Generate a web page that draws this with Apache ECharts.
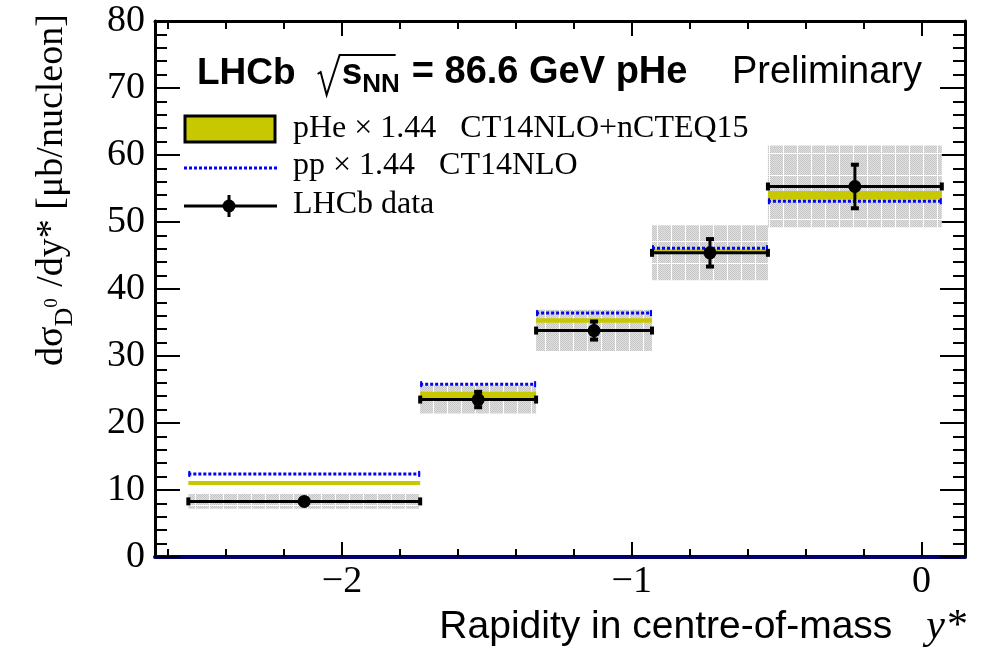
<!DOCTYPE html>
<html>
<head>
<meta charset="utf-8">
<script src="https://cdn.jsdelivr.net/npm/echarts@6/dist/echarts.min.js"></script>
<style>
  html, body { margin: 0; padding: 0; background: #ffffff; }
  #chart { width: 981px; height: 651px; }
</style>
</head>
<body>
<div id="chart"></div>
<script>
// Rapidity bins in the centre-of-mass frame
const binLow    = [-2.53, -1.73, -1.33, -0.93, -0.53];
const binHigh   = [-1.73, -1.33, -0.93, -0.53,  0.07];
const binCenter = [-2.13, -1.53, -1.13, -0.73, -0.23];

// LHCb measurement: dsigma/dy* [ub/nucleon]
const dataValue = [8.3, 23.5, 33.8, 45.4, 55.3];
const statError = [0.4, 1.3, 1.5, 2.2, 3.4];
const systError = [1.1, 2.1, 3.1, 4.1, 6.1];

// Predictions (both scaled by 1.44)
const pHeCentral   = [11.05, 24.2, 35.3, 45.6, 54.0];
const pHeHalfWidth = [0.3, 0.45, 0.33, 0.35, 0.64];
const ppValue      = [12.4, 25.8, 36.4, 46.1, 53.1];

// Axis ticks
const xMajorTicks = [-2, -1, 0];
const xMinorTicks = [-2.6, -2.4, -2.2, -1.8, -1.6, -1.4, -1.2, -0.8, -0.6, -0.4, -0.2];
const xMin = -2.645, xMax = 0.15;
const yMin = 0, yMax = 80, yStep = 10;

const SERIF = '"Liberation Serif", "Times New Roman", serif';
const SANS = '"Liberation Sans", Arial, Helvetica, sans-serif';
const OLIVE = '#c8c800';
const BLUE = '#0000ff';

const measureCtx = document.createElement('canvas').getContext('2d');
function textWidth(str, font) { measureCtx.font = font; return measureCtx.measureText(str).width; }

// light grey textured fill for the systematic boxes
function makeHatch() {
  const c = document.createElement('canvas');
  c.width = 14; c.height = 22;
  const g = c.getContext('2d');
  for (let y = 0; y < 22; y++) {
    for (let x = 0; x < 14; x++) {
      g.fillStyle = ((x + y) % 2 === 0) ? '#c6c6c6' : '#e0e0e0';
      g.fillRect(x, y, 1, 1);
    }
  }
  g.fillStyle = '#ffffff';
  g.fillRect(13, 0, 1, 22);
  g.fillRect(0, 21, 14, 1);
  return c;
}
const hatch = { image: makeHatch(), repeat: 'repeat' };

const systData = binLow.map((lo, i) => [lo, binHigh[i], dataValue[i] - systError[i], dataValue[i] + systError[i]]);
const pHeData  = binLow.map((lo, i) => [lo, binHigh[i], pHeCentral[i] - pHeHalfWidth[i], pHeCentral[i] + pHeHalfWidth[i]]);
const ppData   = binLow.map((lo, i) => [lo, binHigh[i], ppValue[i]]);
const lhcbData = binLow.map((lo, i) => [lo, binHigh[i], binCenter[i], dataValue[i], statError[i]]);

function boxItem(fill) {
  return function (params, api) {
    const a = api.coord([api.value(0), api.value(2)]);
    const b = api.coord([api.value(1), api.value(3)]);
    return {
      type: 'rect',
      shape: { x: a[0], y: b[1], width: b[0] - a[0], height: a[1] - b[1] },
      style: { fill: fill }
    };
  };
}

function ppItem(params, api) {
  const a = api.coord([api.value(0), api.value(2)]);
  const b = api.coord([api.value(1), api.value(2)]);
  return {
    type: 'group',
    children: [
      { type: 'line', shape: { x1: a[0], y1: a[1], x2: b[0], y2: b[1] },
        style: { stroke: BLUE, lineWidth: 3, lineDash: [3, 2] } },
      { type: 'line', shape: { x1: a[0] + 1, y1: a[1] - 3, x2: a[0] + 1, y2: a[1] + 3 },
        style: { stroke: BLUE, lineWidth: 2 } },
      { type: 'line', shape: { x1: b[0] - 1, y1: b[1] - 3, x2: b[0] - 1, y2: b[1] + 3 },
        style: { stroke: BLUE, lineWidth: 2 } }
    ]
  };
}

function dataItem(params, api) {
  const v = api.value(3), e = api.value(4), xc = api.value(2);
  const L = api.coord([api.value(0), v]);
  const R = api.coord([api.value(1), v]);
  const C = api.coord([xc, v]);
  const T = api.coord([xc, v + e]);
  const B = api.coord([xc, v - e]);
  const k = { fill: '#000' };
  return {
    type: 'group',
    children: [
      { type: 'line', shape: { x1: L[0], y1: L[1], x2: R[0], y2: R[1] }, style: { stroke: '#000', lineWidth: 3 } },
      { type: 'rect', shape: { x: L[0] - 2, y: L[1] - 4, width: 4, height: 8 }, style: k },
      { type: 'rect', shape: { x: R[0] - 2, y: R[1] - 4, width: 4, height: 8 }, style: k },
      { type: 'line', shape: { x1: C[0], y1: T[1], x2: C[0], y2: B[1] }, style: { stroke: '#000', lineWidth: 3 } },
      { type: 'rect', shape: { x: C[0] - 4, y: T[1] - 1, width: 8, height: 4 }, style: k },
      { type: 'rect', shape: { x: C[0] - 4, y: B[1] - 3, width: 8, height: 4 }, style: k },
      { type: 'circle', shape: { cx: C[0], cy: C[1], r: 6.5 }, style: k }
    ]
  };
}

// ---- text blocks drawn as graphic elements ----
const graphics = [];

// header: LHCb sqrt(s_NN) = 86.6 GeV pHe
(function () {
  const big = 'bold 37px ' + SANS, small = 'bold 26px ' + SANS;
  const base = 84;
  let x = 197;
  const put = (t, font, dy) => {
    graphics.push({ type: 'text', x: x, y: base + dy, style: { text: t, font: font, fill: '#000', align: 'left', verticalAlign: 'bottom' } });
    const w = textWidth(t, font); x += w; return w;
  };
  put('LHCb', big, 8);
  x += 22;
  const r0 = x;
  graphics.push({ type: 'polyline', shape: { points: [[r0, base - 10], [r0 + 3, base - 12], [r0 + 9, base + 11], [r0 + 22, base - 29], [r0 + 78, base - 29]] },
                  style: { stroke: '#000', lineWidth: 2, fill: null } });
  x += 24;
  put('s', big, 8);
  put('NN', small, 14);
  x += 12;
  put('= 86.6 GeV pHe', 'bold 38px ' + SANS, 8);
})();

graphics.push({ type: 'text', x: 922, y: 92, style: { text: 'Preliminary', font: '38px ' + SANS, fill: '#000', align: 'right', verticalAlign: 'bottom' } });

// x axis title
(function () {
  const f1 = '39px ' + SANS, f2 = 'italic 42px ' + SERIF;
  const wy = textWidth('y*', f2);
  graphics.push({ type: 'text', x: 966, y: 648, style: { text: 'y*', font: f2, fill: '#000', align: 'right', verticalAlign: 'bottom' } });
  graphics.push({ type: 'text', x: 966 - wy - 34, y: 647, style: { text: 'Rapidity in centre-of-mass', font: f1, fill: '#000', align: 'right', verticalAlign: 'bottom' } });
})();

// y axis title (rotated)
(function () {
  const fMain = '38px ' + SERIF, fSub = '26px ' + SERIF, fSup = '19px ' + SERIF;
  const kids = [];
  let x = 0;
  const put = (t, font, dy) => {
    kids.push({ type: 'text', x: x, y: dy, style: { text: t, font: font, fill: '#000', align: 'left', verticalAlign: 'bottom' } });
    return textWidth(t, font);
  };
  x += put('d\u03c3', fMain, 8);
  const xd = x;
  const wD = put('D', fSub, 15);
  x = xd + wD;
  const w0 = put('0', fSup, -1);
  x = xd + Math.max(wD + w0, wD) + 2;
  put(' /dy* [\u03bcb/nucleon]', fMain, 8);
  graphics.push({ type: 'group', x: 63, y: 366, rotation: Math.PI / 2, children: kids });
})();

// legend
(function () {
  const f = '32px ' + SERIF;
  graphics.push({ type: 'rect', shape: { x: 185, y: 116, width: 90, height: 26 }, style: { fill: OLIVE, stroke: '#000', lineWidth: 3 } });
  graphics.push({ type: 'line', shape: { x1: 184, y1: 168, x2: 277, y2: 168 }, style: { stroke: BLUE, lineWidth: 3, lineDash: [3, 2] } });
  graphics.push({ type: 'line', shape: { x1: 184, y1: 206, x2: 277, y2: 206 }, style: { stroke: '#000', lineWidth: 3 } });
  graphics.push({ type: 'line', shape: { x1: 229, y1: 195, x2: 229, y2: 217 }, style: { stroke: '#000', lineWidth: 3 } });
  graphics.push({ type: 'circle', shape: { cx: 229, cy: 206, r: 6.5 }, style: { fill: '#000' } });
  const rows = [['pHe \u00d7 1.44   CT14NLO+nCTEQ15', 129], ['pp \u00d7 1.44   CT14NLO', 166], ['LHCb data', 205]];
  rows.forEach(r => graphics.push({ type: 'text', x: 293, y: r[1], style: { text: r[0], font: f, fill: '#000', align: 'left', verticalAlign: 'middle' } }));
})();

const fmtX = v => (v < 0 ? '\u2212' + Math.abs(v) : String(v));
const tickStyle = { color: '#000', width: 2 };

function xAxisDef(position, major, withLabels, lineColor) {
  return {
    type: 'value', position: position, min: xMin, max: xMax,
    axisLine: lineColor ? { show: true, onZero: false, lineStyle: { color: lineColor, width: position === 'bottom' ? 4 : 3 } } : { show: false, onZero: false },
    axisTick: { show: true, inside: true, length: major ? 15 : 8, customValues: major ? xMajorTicks : xMinorTicks, lineStyle: tickStyle },
    axisLabel: withLabels ? { show: true, customValues: xMajorTicks, formatter: fmtX, fontFamily: SERIF, fontSize: 38, color: '#000', margin: 6 } : { show: false },
    splitLine: { show: false }
  };
}

function yAxisDef(position, withLabels) {
  return {
    type: 'value', position: position, min: yMin, max: yMax, interval: yStep,
    axisLine: { show: true, onZero: false, lineStyle: { color: '#000', width: 3 } },
    axisTick: { show: true, inside: true, length: 25, lineStyle: tickStyle },
    minorTick: { show: true, splitNumber: 5, length: 12, lineStyle: tickStyle },
    axisLabel: withLabels ? { show: true, fontFamily: SERIF, fontSize: 38, color: '#000', margin: 10 } : { show: false },
    splitLine: { show: false }, minorSplitLine: { show: false }
  };
}

const chart = echarts.init(document.getElementById('chart'), null, { renderer: 'canvas' });
chart.setOption({
  animation: false,
  backgroundColor: '#ffffff',
  grid: { left: 155, right: 16, top: 21, bottom: 94, containLabel: false },
  xAxis: [
    xAxisDef('bottom', true, true, '#00006e'),
    xAxisDef('bottom', false, false, null),
    xAxisDef('top', true, false, '#000'),
    xAxisDef('top', false, false, null)
  ],
  yAxis: [yAxisDef('left', true), yAxisDef('right', false)],
  series: [
    { type: 'custom', name: 'syst', renderItem: boxItem(hatch), data: systData, z: 1 },
    { type: 'custom', name: 'pHe', renderItem: boxItem(OLIVE), data: pHeData, z: 2 },
    { type: 'custom', name: 'pp', renderItem: ppItem, data: ppData, z: 3 },
    { type: 'custom', name: 'LHCb data', renderItem: dataItem, data: lhcbData, z: 4 }
  ],
  graphic: graphics
});
</script>
</body>
</html>
